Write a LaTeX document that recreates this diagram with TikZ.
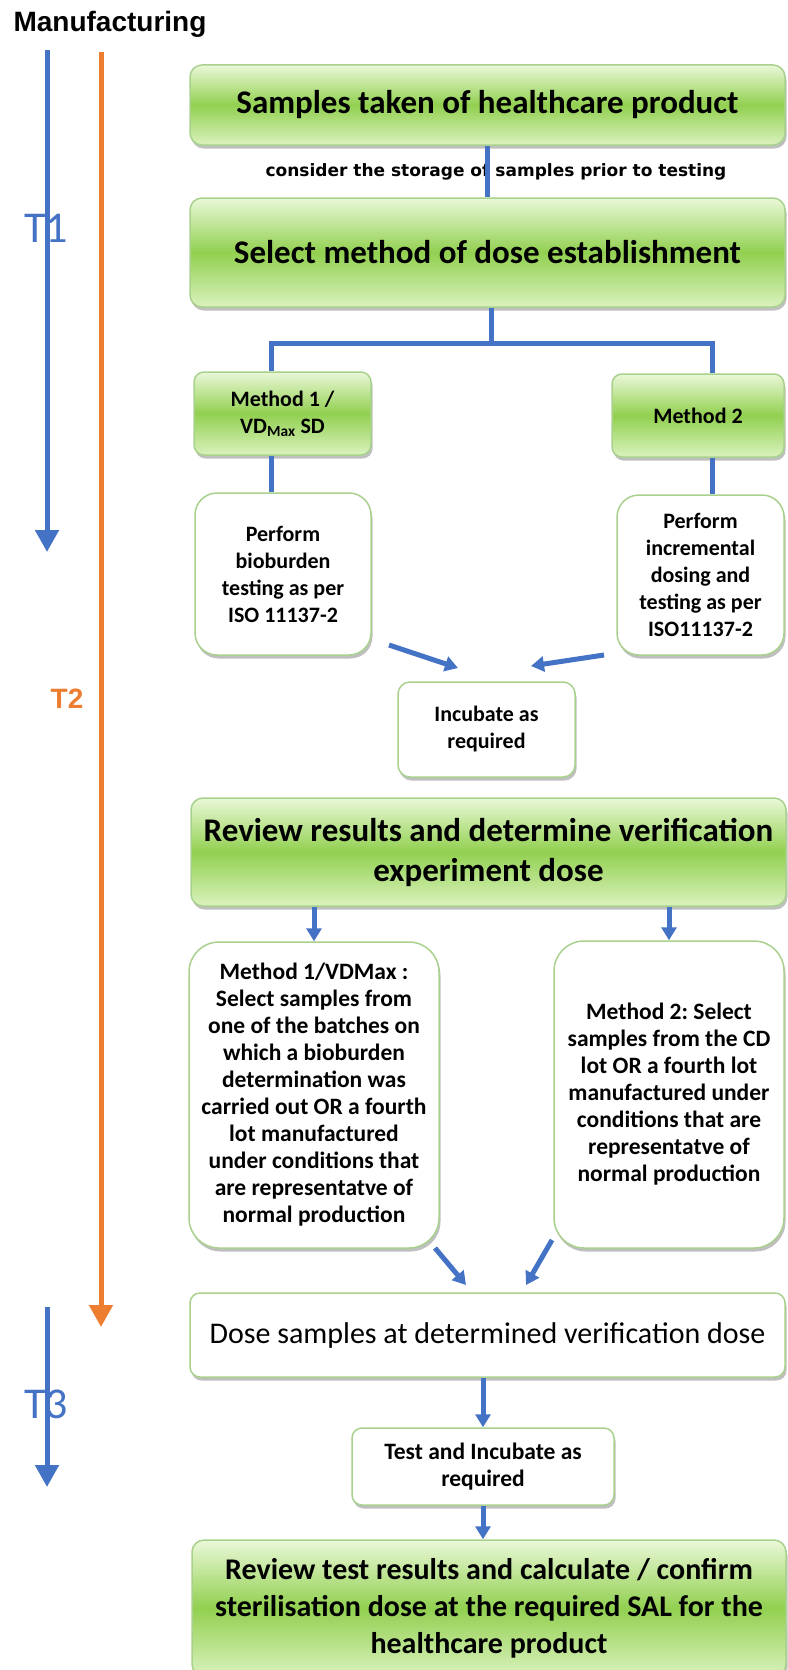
\documentclass[tikz,border=0pt]{standalone}
\usepackage{fontspec}
\setmainfont{Carlito}
\newfontfamily\arialf{Liberation Sans}
\newfontfamily\capf{DejaVu Sans}
\usetikzlibrary{arrows.meta,shadows}
\definecolor{blu}{HTML}{4472C4}
\definecolor{orng}{HTML}{ED7D31}
\definecolor{gborder}{HTML}{A9D18E}
\definecolor{gtop}{HTML}{EAF8D8}
\definecolor{gmid}{HTML}{92D050}
\definecolor{gbot}{HTML}{DAF2BE}
\frenchspacing
\begin{document}
\begin{tikzpicture}[x=1pt,y=-1pt,
  shadowed/.style={drop shadow={shadow xshift=1.5pt,shadow yshift=-3.5pt,opacity=0.25,fill=black}},
  gbox/.style={draw=gborder,line width=1.5pt,rounded corners=12pt,top color=gtop,bottom color=gbot,middle color=gmid,shadowed,align=center,inner sep=0pt},
  wbox/.style={draw=gborder,line width=1.5pt,fill=white,shadowed,align=center,inner sep=0pt},
  conn/.style={draw=blu,line width=5pt},
  arr/.style={conn,-{Triangle[width=15pt,length=13pt]}},
  tline/.style={line width=5pt,-{Triangle[width=23pt,length=22pt]}},
  big/.style={font=\fontsize{33}{40}\selectfont\bfseries},
  bigb/.style={font=\fontsize{30}{37}\selectfont\bfseries},
  bigr/.style={font=\fontsize{30}{37}\selectfont},
  small/.style={font=\fontsize{22}{27}\selectfont\bfseries},
  smallb/.style={font=\fontsize{23.5}{27}\selectfont\bfseries},
]
\useasboundingbox (0,0) rectangle (787,1670);

% title
\node[font=\arialf\bfseries\fontsize{28}{32}\selectfont,anchor=center] (manu) at (110,24) {Manufacturing};

% timelines
\coordinate (t1s) at (47,50);
\coordinate (t1e) at (47,552);
\coordinate (t2s) at (101,52);
\coordinate (t2e) at (101,1327);
\coordinate (t3s) at (47,1307);
\coordinate (t3e) at (47,1487);
\draw[tline,draw=blu] (t1s) -- (t1e);
\draw[tline,draw=orng] (t2s) -- (t2e);
\draw[tline,draw=blu] (t3s) -- (t3e);
\node[text=blu,font=\fontsize{44}{48}\selectfont] (lt1) at (46,228) {T1};
\node[text=orng,font=\arialf\bfseries\fontsize{28}{32}\selectfont] (lt2) at (67,699) {T2};
\node[text=blu,font=\fontsize{44}{48}\selectfont] (lt3) at (46,1404) {T3};

% boxes
\node[gbox,big,minimum width=595pt,minimum height=80pt] (b1) at (487.5,105) {Samples taken of healthcare product};
\node[gbox,big,minimum width=595pt,minimum height=109pt] (b2) at (487.5,252.5) {Select method of dose establishment};
\node[gbox,small,rounded corners=10pt,minimum width=177pt,minimum height=83pt] (b3) at (282.5,413.5) {Method 1 /\\VD\textsubscript{Max} SD};
\node[gbox,small,rounded corners=10pt,minimum width=172pt,minimum height=83pt] (b4) at (698,415.5) {Method 2};
\node[wbox,small,rounded corners=22pt,minimum width=176pt,minimum height=162pt] (b5) at (283,574) {Perform\\bioburden\\testing as per\\ISO 11137-2};
\node[wbox,small,rounded corners=22pt,minimum width=167pt,minimum height=160pt] (b6) at (700.5,575) {Perform\\incremental\\dosing and\\testing as per\\ISO11137-2};
\node[wbox,small,rounded corners=12pt,minimum width=177pt,minimum height=95pt] (b7) at (486.5,729.5) {Incubate as\\required};
\node[gbox,big,minimum width=595pt,minimum height=108pt] (b8) at (488.5,852) {Review results and determine verification\\experiment dose};
\node[wbox,smallb,rounded corners=30pt,minimum width=250pt,minimum height=306pt] (b9) at (314,1095) {Method 1/VDMax :\\Select samples from\\one of the batches on\\which a bioburden\\determination was\\carried out OR a fourth\\lot manufactured\\under conditions that\\are representatve of\\normal production};
\node[wbox,smallb,rounded corners=30pt,minimum width=230pt,minimum height=307pt] (b10) at (669,1094.5) {Method 2: Select\\samples from the CD\\lot OR a fourth lot\\manufactured under\\conditions that are\\representatve of\\normal production};
\node[wbox,bigr,rounded corners=10pt,minimum width=595pt,minimum height=84pt] (b11) at (487.5,1335) {Dose samples at determined verification dose};
\node[wbox,smallb,rounded corners=10pt,minimum width=262pt,minimum height=77pt] (b12) at (483,1466.5) {Test and Incubate as\\required};
\node[gbox,bigb,minimum width=594pt,minimum height=136pt] (b13) at (489,1608) {Review test results and calculate / confirm\\sterilisation dose at the required SAL for the\\healthcare product};

% caption
\node[font=\capf\bfseries\fontsize{17}{20}\selectfont] (cap) at (496,172) {consider the storage of samples prior to testing};

% connectors
\draw[conn] (b1.south) -- (b2.north);
\coordinate (j) at (491,343);
\coordinate (jl) at (271,343);
\coordinate (jr) at (712,343);
\draw[conn] (b2.south -| j) -- (j);
\draw[conn] (b3.north -| jl) -- (jl) -- (jr) -- (b4.north -| jr);
\draw[conn] (b3.south -| jl) -- (b5.north -| jl);
\draw[conn] (b4.south -| jr) -- (b6.north -| jr);

\coordinate (a1s) at (389,645);
\coordinate (a1e) at (458,668);
\coordinate (a2s) at (604,655);
\coordinate (a2e) at (531,666);
\draw[arr] (a1s) -- (a1e);
\draw[arr] (a2s) -- (a2e);

\draw[arr] (b8.south -| b9.north) -- (b9.north);
\draw[arr] (b8.south -| b10.north) -- (b10.north);

\coordinate (a3s) at (435,1248);
\coordinate (a3e) at (466,1285);
\coordinate (a4s) at (552,1240);
\coordinate (a4e) at (526,1285);
\draw[arr] (a3s) -- (a3e);
\draw[arr] (a4s) -- (a4e);

\draw[arr] (b11.south -| b12.north) -- (b12.north);
\draw[arr] (b12.south) -- (b13.north -| b12.south);
\end{tikzpicture}
\end{document}
